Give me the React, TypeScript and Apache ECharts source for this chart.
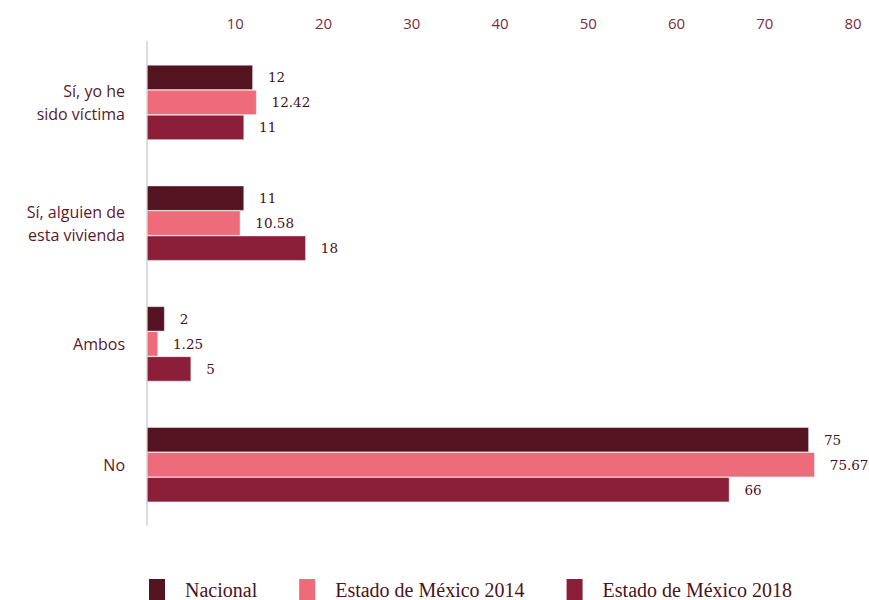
import React, { useEffect, useRef } from "react";
import * as echarts from "echarts";

const categories = ["Sí, yo he\nsido víctima", "Sí, alguien de\nesta vivienda", "Ambos", "No"];
const seriesNames = ["Nacional", "Estado de México 2014", "Estado de México 2018"];
const nacional = [12, 11, 2, 75];
const edomex2014 = [12.42, 10.58, 1.25, 75.67];
const edomex2018 = [11, 18, 5, 66];
const colors = ["#541320", "#ee6b7b", "#8b1f3a"];
const axisTicks = { min: 0, max: 80, interval: 10 };

export default function App() {
  const ref = useRef<HTMLDivElement>(null);
  useEffect(() => {
    if (!ref.current) return;
    const chart = echarts.init(ref.current, undefined, { renderer: "svg" });
    const dataSets = [nacional, edomex2014, edomex2018];
    chart.setOption({
      animation: false,
      grid: { left: 147, right: 16, top: 42, bottom: 75, containLabel: false },
      legend: {
        left: 142,
        top: 572,
        itemWidth: 18,
        itemHeight: 24,
        itemGap: 40,
        icon: "rect",
        data: seriesNames,
        textStyle: {
          fontFamily: "Liberation Serif",
          fontSize: 20,
          lineHeight: 20,
          color: "#4a1420",
          padding: [0, 0, 0, 14],
        },
      },
      xAxis: {
        type: "value",
        position: "top",
        min: axisTicks.min,
        max: axisTicks.max,
        interval: axisTicks.interval,
        axisLine: { show: false },
        axisTick: { show: false },
        splitLine: { show: false },
        axisLabel: {
          margin: 12,
          fontFamily: "Open Sans",
          fontSize: 15,
          color: "#7a2d3d",
          formatter: (v: number) => (v === 0 ? "" : String(v)),
        },
      },
      yAxis: {
        type: "category",
        inverse: true,
        data: categories,
        axisLine: { show: true, lineStyle: { color: "#dcdcdc", width: 2 } },
        axisTick: { show: false },
        axisLabel: {
          margin: 22,
          fontFamily: "Open Sans",
          fontSize: 16,
          lineHeight: 23,
          color: "#5a1a2a",
          align: "right",
        },
      },
      series: seriesNames.map((name, i) => ({
        name,
        type: "bar",
        data: dataSets[i],
        barWidth: 25,
        barGap: "0%",
        itemStyle: { color: colors[i], borderColor: "#ffffff", borderWidth: 0.5 },
        label: {
          show: true,
          position: "right",
          distance: 15,
          fontFamily: "DejaVu Serif",
          fontSize: 13.5,
          color: "#4a1020",
        },
      })),
    });
    return () => chart.dispose();
  }, []);
  return <div ref={ref} style={{ width: 869, height: 600, position: "absolute", left: 0, top: 0 }} />;
}
